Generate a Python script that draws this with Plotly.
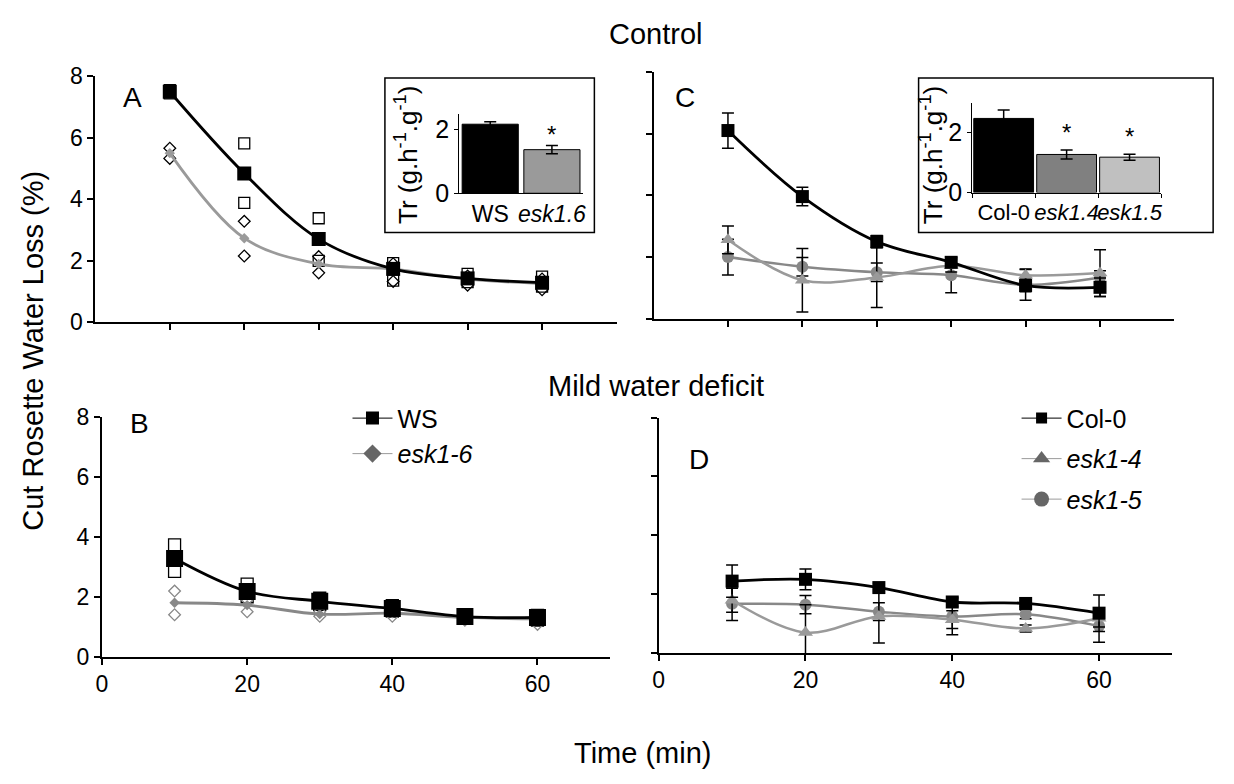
import plotly.graph_objects as go

# ---------------- data ----------------
time_min = [10, 20, 30, 40, 50, 60]

# Panel A (Control, WS vs esk1-6): means and individual replicates
ws_ctrl_mean = [7.50, 4.84, 2.70, 1.73, 1.42, 1.28]
ws_ctrl_rep1 = [7.55, 5.82, 3.38, 1.92, 1.57, 1.48]
ws_ctrl_rep2 = [7.45, 3.88, 1.99, 1.35, 1.30, 1.15]
esk16_ctrl_mean = [5.50, 2.73, 1.89, 1.72, 1.40, 1.25]
esk16_ctrl_rep1 = [5.66, 3.28, 2.13, 1.90, 1.50, 1.40]
esk16_ctrl_rep2 = [5.33, 2.15, 1.60, 1.32, 1.20, 1.05]

# Panel B (Mild water deficit, WS vs esk1-6)
ws_mwd_mean = [3.28, 2.18, 1.85, 1.61, 1.34, 1.31]
ws_mwd_rep1 = [3.73, 2.42, 1.95, 1.70, 1.40, 1.38]
ws_mwd_rep2 = [2.85, 2.00, 1.75, 1.52, 1.28, 1.22]
esk16_mwd_mean = [1.80, 1.72, 1.42, 1.45, 1.31, 1.26]
esk16_mwd_rep1 = [2.19, 1.90, 1.50, 1.55, 1.38, 1.32]
esk16_mwd_rep2 = [1.40, 1.50, 1.35, 1.35, 1.22, 1.08]

# Panel C (Control, Col-0 / esk1-4 / esk1-5) mean +- error
col0_ctrl = [6.10, 3.96, 2.50, 1.83, 1.08, 1.02]
col0_ctrl_err = [0.57, 0.30, 0.20, 0.15, 0.20, 0.30]
esk14_ctrl = [2.56, 1.25, 1.34, 1.72, 1.41, 1.48]
esk14_ctrl_err = [0.45, 1.03, 0.97, 0.20, 0.20, 0.76]
esk15_ctrl = [2.00, 1.69, 1.51, 1.41, 1.10, 1.34]
esk15_ctrl_err = [0.58, 0.30, 0.30, 0.57, 0.50, 0.22]

# Panel D (Mild water deficit)
col0_mwd = [2.44, 2.50, 2.22, 1.73, 1.68, 1.35]
col0_mwd_err = [0.55, 0.35, 0.15, 0.15, 0.10, 0.62]
esk14_mwd = [1.79, 0.69, 1.24, 1.13, 0.83, 1.18]
esk14_mwd_err = [0.41, 0.95, 0.90, 0.30, 0.12, 0.30]
esk15_mwd = [1.67, 1.64, 1.40, 1.24, 1.31, 0.91]
esk15_mwd_err = [0.57, 0.31, 0.30, 0.62, 0.15, 0.55]

# Insets: transpiration rate Tr
insetA_labels = ["WS", "<i>esk1.6</i>"]
insetA_values = [2.17, 1.37]
insetA_err = [0.08, 0.13]
insetA_sig = ["", "*"]

insetC_labels = ["Col-0", "<i>esk1.4</i>", "<i>esk1.5</i>"]
insetC_values = [2.47, 1.27, 1.18]
insetC_err = [0.28, 0.15, 0.10]
insetC_sig = ["", "*", "*"]

y_ticks = [0, 2, 4, 6, 8]

# ---------------- layout helpers ----------------
W, H = 1234, 784
FONT = "Liberation Sans, Arial, Helvetica, sans-serif"


def xd(a, b):
    return [a / W, b / W]


def yd(top, bottom):
    return [1 - bottom / H, 1 - top / H]


BLACK = "#000000"
GRAY_L = "#9a9a9a"
GRAY_M = "#888888"
GRAY_D = "#666666"

fig = go.Figure()

# ---------- Panel A ----------
fig.add_trace(go.Scatter(x=time_min, y=ws_ctrl_rep1, mode="markers", xaxis="x", yaxis="y",
                         marker=dict(symbol="square-open", size=11, color=BLACK, line=dict(width=1.3)),
                         showlegend=False))
fig.add_trace(go.Scatter(x=time_min, y=ws_ctrl_rep2, mode="markers", xaxis="x", yaxis="y",
                         marker=dict(symbol="square-open", size=11, color=BLACK, line=dict(width=1.3)),
                         showlegend=False))
fig.add_trace(go.Scatter(x=time_min, y=esk16_ctrl_rep1, mode="markers", xaxis="x", yaxis="y",
                         marker=dict(symbol="diamond-open", size=9, color=BLACK, line=dict(width=1.3)),
                         showlegend=False))
fig.add_trace(go.Scatter(x=time_min, y=esk16_ctrl_rep2, mode="markers", xaxis="x", yaxis="y",
                         marker=dict(symbol="diamond-open", size=9, color=BLACK, line=dict(width=1.3)),
                         showlegend=False))
fig.add_trace(go.Scatter(x=time_min, y=esk16_ctrl_mean, mode="lines+markers", xaxis="x", yaxis="y",
                         line=dict(color=GRAY_L, width=2.8, shape="spline"),
                         marker=dict(symbol="diamond", size=8, color=GRAY_L), showlegend=False))
fig.add_trace(go.Scatter(x=time_min, y=ws_ctrl_mean, mode="lines+markers", xaxis="x", yaxis="y",
                         line=dict(color=BLACK, width=2.8, shape="spline"),
                         marker=dict(symbol="square", size=14, color=BLACK), showlegend=False))

# ---------- Panel B ----------
fig.add_trace(go.Scatter(x=time_min, y=ws_mwd_rep1, mode="markers", xaxis="x3", yaxis="y3",
                         marker=dict(symbol="square-open", size=12, color=BLACK, line=dict(width=1.3)),
                         showlegend=False))
fig.add_trace(go.Scatter(x=time_min, y=ws_mwd_rep2, mode="markers", xaxis="x3", yaxis="y3",
                         marker=dict(symbol="square-open", size=12, color=BLACK, line=dict(width=1.3)),
                         showlegend=False))
fig.add_trace(go.Scatter(x=time_min, y=esk16_mwd_rep1, mode="markers", xaxis="x3", yaxis="y3",
                         marker=dict(symbol="diamond-open", size=9, color=GRAY_M, line=dict(width=1.3)),
                         showlegend=False))
fig.add_trace(go.Scatter(x=time_min, y=esk16_mwd_rep2, mode="markers", xaxis="x3", yaxis="y3",
                         marker=dict(symbol="diamond-open", size=9, color=GRAY_M, line=dict(width=1.3)),
                         showlegend=False))
fig.add_trace(go.Scatter(x=time_min, y=esk16_mwd_mean, mode="lines+markers", xaxis="x3", yaxis="y3",
                         line=dict(color=GRAY_M, width=2.8, shape="spline"),
                         marker=dict(symbol="diamond", size=8, color=GRAY_M), showlegend=False))
fig.add_trace(go.Scatter(x=time_min, y=ws_mwd_mean, mode="lines+markers", xaxis="x3", yaxis="y3",
                         line=dict(color=BLACK, width=2.8, shape="spline"),
                         marker=dict(symbol="square", size=17, color=BLACK), showlegend=False))


# ---------- Panels C & D ----------
def err(a):
    return dict(type="data", array=a, visible=True, color=BLACK, thickness=1.5, width=6)


for xa, ya, c0, c0e, e4, e4e, e5, e5e in [
    ("x2", "y2", col0_ctrl, col0_ctrl_err, esk14_ctrl, esk14_ctrl_err, esk15_ctrl, esk15_ctrl_err),
    ("x4", "y4", col0_mwd, col0_mwd_err, esk14_mwd, esk14_mwd_err, esk15_mwd, esk15_mwd_err),
]:
    fig.add_trace(go.Scatter(x=time_min, y=e5, mode="lines+markers", xaxis=xa, yaxis=ya,
                             error_y=err(e5e), cliponaxis=False,
                             line=dict(color=GRAY_M, width=2.5, shape="spline"),
                             marker=dict(symbol="circle", size=12, color=GRAY_M), showlegend=False))
    fig.add_trace(go.Scatter(x=time_min, y=e4, mode="lines+markers", xaxis=xa, yaxis=ya,
                             error_y=err(e4e), cliponaxis=False,
                             line=dict(color=GRAY_L, width=2.5, shape="spline"),
                             marker=dict(symbol="triangle-up", size=13, color=GRAY_L), showlegend=False))
    fig.add_trace(go.Scatter(x=time_min, y=c0, mode="lines+markers", xaxis=xa, yaxis=ya,
                             error_y=err(c0e), cliponaxis=False,
                             line=dict(color=BLACK, width=2.8, shape="spline"),
                             marker=dict(symbol="square", size=13, color=BLACK), showlegend=False))

# ---------- Legends (entries only) ----------
fig.add_trace(go.Scatter(x=[None], y=[None], mode="lines+markers", name="WS", xaxis="x3", yaxis="y3",
                         line=dict(color=BLACK, width=1), marker=dict(symbol="square", size=13, color=BLACK),
                         legend="legend", legendgroup="a"))
fig.add_trace(go.Scatter(x=[None], y=[None], mode="lines+markers", name="<i>esk1-6</i>", xaxis="x3", yaxis="y3",
                         line=dict(color=GRAY_L, width=1), marker=dict(symbol="diamond", size=14, color=GRAY_D),
                         legend="legend", legendgroup="b"))
fig.add_trace(go.Scatter(x=[None], y=[None], mode="lines+markers", name="Col-0", xaxis="x4", yaxis="y4",
                         line=dict(color=BLACK, width=1), marker=dict(symbol="square", size=11, color=BLACK),
                         legend="legend2", legendgroup="c"))
fig.add_trace(go.Scatter(x=[None], y=[None], mode="lines+markers", name="<i>esk1-4</i>", xaxis="x4", yaxis="y4",
                         line=dict(color=GRAY_L, width=1), marker=dict(symbol="triangle-up", size=15, color=GRAY_D),
                         legend="legend2", legendgroup="d"))
fig.add_trace(go.Scatter(x=[None], y=[None], mode="lines+markers", name="<i>esk1-5</i>", xaxis="x4", yaxis="y4",
                         line=dict(color=GRAY_L, width=1), marker=dict(symbol="circle", size=15, color=GRAY_D),
                         legend="legend2", legendgroup="e"))

# ---------- Inset bars ----------
fig.add_trace(go.Bar(x=insetA_labels, y=insetA_values, xaxis="x5", yaxis="y5",
                     marker=dict(color=[BLACK, GRAY_L], line=dict(color=BLACK, width=1)),
                     error_y=dict(type="data", array=insetA_err, color=BLACK, thickness=1.5, width=6),
                     width=0.91, showlegend=False))
fig.add_trace(go.Bar(x=insetC_labels, y=insetC_values, xaxis="x6", yaxis="y6",
                     marker=dict(color=[BLACK, "#808080", "#c0c0c0"], line=dict(color=BLACK, width=1)),
                     error_y=dict(type="data", array=insetC_err, color=BLACK, thickness=1.5, width=6),
                     width=0.95, showlegend=False))

annotations = []
for lab, v, e, s in zip(insetA_labels, insetA_values, insetA_err, insetA_sig):
    if s:
        annotations.append(dict(x=lab, y=v + e, xref="x5", yref="y5", text=s, showarrow=False,
                                yanchor="bottom", yshift=-4, font=dict(size=24, color=BLACK, family=FONT)))
for lab, v, e, s in zip(insetC_labels, insetC_values, insetC_err, insetC_sig):
    if s:
        annotations.append(dict(x=lab, y=v + e, xref="x6", yref="y6", text=s, showarrow=False,
                                yanchor="bottom", yshift=2, font=dict(size=24, color=BLACK, family=FONT)))

# ---------- Axes ----------
axis_common = dict(showline=True, linecolor=BLACK, linewidth=2, ticks="outside", ticklen=6,
                   tickwidth=1.5, tickcolor=BLACK, showgrid=False, zeroline=False,
                   tickfont=dict(size=23, color=BLACK, family=FONT))

layout = dict(
    width=W, height=H,
    margin=dict(l=0, r=0, t=0, b=0),
    paper_bgcolor="white", plot_bgcolor="rgba(0,0,0,0)",
    font=dict(family=FONT, color=BLACK),
    xaxis=dict(domain=xd(90, 615), range=[0, 70], tickvals=time_min, showticklabels=False,
               anchor="y", **axis_common),
    yaxis=dict(domain=yd(65.7, 320), range=[0, 8], tickvals=y_ticks, anchor="x", **axis_common),
    xaxis2=dict(domain=xd(652.3, 1177), range=[0, 70], tickvals=time_min, showticklabels=False,
                anchor="y2", **axis_common),
    yaxis2=dict(domain=yd(61, 316.7), range=[0, 8], tickvals=y_ticks, showticklabels=False,
                anchor="x2", **axis_common),
    xaxis3=dict(domain=xd(96.7, 608.5), range=[0, 70], tickvals=[0, 20, 40, 60], anchor="y3",
                **axis_common),
    yaxis3=dict(domain=yd(418.3, 666.7), range=[0, 8], tickvals=y_ticks, anchor="x3", **axis_common),
    xaxis4=dict(domain=xd(657.5, 1175), range=[0, 70], tickvals=[0, 20, 40, 60], anchor="y4",
                **axis_common),
    yaxis4=dict(domain=yd(419, 662.7), range=[0, 8], tickvals=y_ticks, showticklabels=False,
                anchor="x4", **axis_common),
    xaxis5=dict(domain=xd(456.7, 581), range=[-0.5, 1.5], anchor="y5", type="category",
                showline=True, linecolor=BLACK, linewidth=1.2, ticks="", showgrid=False, zeroline=False,
                tickangle=0, tickfont=dict(size=23, color=BLACK, family=FONT)),
    yaxis5=dict(domain=yd(104.3, 186.7), range=[0, 2.5], tickvals=[0, 2], anchor="x5",
                showline=True, linecolor=BLACK, linewidth=1.2, ticks="outside", ticklen=4,
                tickcolor=BLACK, showgrid=False, zeroline=False,
                tickfont=dict(size=25, color=BLACK, family=FONT)),
    xaxis6=dict(domain=xd(973.3, 1163.5), range=[-0.5, 2.5], anchor="y6", type="category",
                showline=True, linecolor=BLACK, linewidth=1.2, ticks="outside", ticklen=4,
                tickson="boundaries", tickcolor=BLACK, showgrid=False, zeroline=False,
                tickangle=0, tickfont=dict(size=22, color=BLACK, family=FONT)),
    yaxis6=dict(domain=yd(92.7, 186), range=[0, 3], tickvals=[0, 2], anchor="x6",
                showline=True, linecolor=BLACK, linewidth=1.2, ticks="outside", ticklen=4,
                tickcolor=BLACK, showgrid=False, zeroline=False,
                tickfont=dict(size=25, color=BLACK, family=FONT)),
    bargap=0.09,
    legend=dict(x=344 / W, y=1 - 396 / H, xanchor="left", yanchor="top", bgcolor="rgba(0,0,0,0)",
                font=dict(size=25, color=BLACK, family=FONT), tracegroupgap=0, itemwidth=40),
    legend2=dict(x=1018 / W, y=1 - 396 / H, xanchor="left", yanchor="top", bgcolor="rgba(0,0,0,0)",
                 font=dict(size=25, color=BLACK, family=FONT), tracegroupgap=5, itemwidth=40),
    shapes=[
        dict(type="rect", xref="paper", yref="paper", x0=381.7 / W, x1=592.7 / W,
             y0=1 - 227.3 / H, y1=1 - 67.3 / H, line=dict(color=BLACK, width=1.5), layer="above"),
        dict(type="rect", xref="paper", yref="paper", x0=919.3 / W, x1=1216 / W,
             y0=1 - 227.3 / H, y1=1 - 67.3 / H, line=dict(color=BLACK, width=1.5), layer="above"),
    ],
)


def pann(text, x, y, size, angle=0):
    return dict(text=text, x=x / W, y=1 - y / H, xref="paper", yref="paper", showarrow=False,
                xanchor="center", yanchor="middle", textangle=angle,
                font=dict(size=size, color=BLACK, family=FONT))


annotations += [
    pann("Control", 655, 22, 29),
    pann("Mild water deficit", 655, 386, 29),
    pann("Time (min)", 641, 766, 29),
    pann("Cut Rosette Water Loss (%)", 27, 350, 29, angle=-90),
    pann("A", 127, 87, 28),
    pann("B", 134, 425, 28),
    pann("C", 684, 88, 28),
    pann("D", 698, 462, 28),
    pann("Tr (g.h<sup>-1</sup>.g<sup>-1</sup>)", 404, 147, 26, angle=-90),
    pann("Tr (g.h<sup>-1</sup>.g<sup>-1</sup>)", 933, 147, 26, angle=-90),
]
layout["annotations"] = annotations

fig.update_layout(**layout)
fig.write_html("out.html", config={"displayModeBar": False},
               post_script="document.body.style.margin='0px';document.body.style.overflow='hidden';")
